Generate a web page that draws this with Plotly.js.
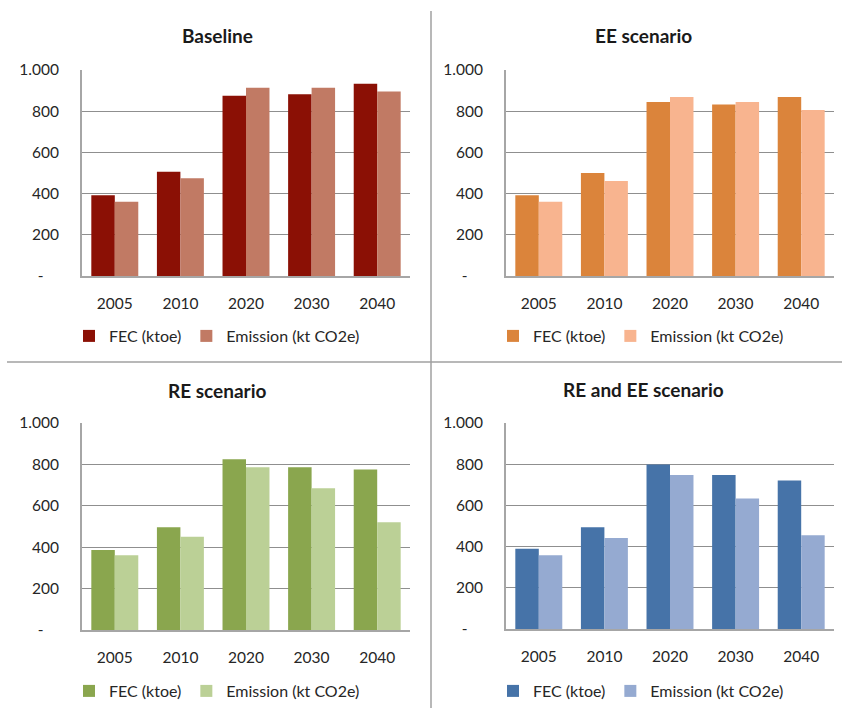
<!DOCTYPE html>
<html>
<head>
<meta charset="utf-8">
<script src="https://cdn.plot.ly/plotly-3.0.1.min.js"></script>
<style>
  html, body { margin: 0; padding: 0; background: #ffffff; }
  #chart { width: 842px; height: 708px; }
</style>
</head>
<body>
<div id="chart"></div>
<script>
// Final energy consumption and emissions per scenario
const years = ['2005', '2010', '2020', '2030', '2040'];

const baselineFEC      = [392, 506, 875, 882, 933];
const baselineEmission = [361, 474, 914, 914, 896];

const eeFEC      = [392, 500, 845, 832, 869];
const eeEmission = [361, 461, 869, 845, 806];

const reFEC      = [386, 496, 825, 786, 775];
const reEmission = [361, 451, 786, 685, 520];

const reeeFEC      = [390, 494, 798, 748, 721];
const reeeEmission = [358, 442, 748, 633, 455];

const panelTitles = ['Baseline', 'EE scenario', 'RE scenario', 'RE and EE scenario'];
const seriesNames = ['FEC (ktoe)', 'Emission (kt CO2e)'];
const yTickValues = [0, 200, 400, 600, 800, 1000];
const yTickLabels = ['-\u2002\u2002', '200', '400', '600', '800', '1.000'];

const W = 842, H = 708;
const FONT = 'Lato, "Open Sans", sans-serif';
const TEXT = '#262626';

const panels = [
  { fec: baselineFEC, em: baselineEmission, c1: '#8b1005', c2: '#c17a64',
    x: [82, 410], y: [70, 276], title: [218, 35], legend: [217, 336] },
  { fec: eeFEC, em: eeEmission, c1: '#db843b', c2: '#f8b48f',
    x: [506, 834], y: [70, 276], title: [643, 35], legend: [641, 336] },
  { fec: reFEC, em: reEmission, c1: '#8aa64e', c2: '#bbd096',
    x: [82, 410], y: [423, 630], title: [218, 390], legend: [217, 691] },
  { fec: reeeFEC, em: reeeEmission, c1: '#4673a8', c2: '#95aad1',
    x: [506, 834], y: [423, 629], title: [643, 389], legend: [641, 691] }
];

const data = [];
const layout = {
  width: W, height: H,
  margin: { l: 0, r: 0, t: 0, b: 0 },
  paper_bgcolor: '#ffffff', plot_bgcolor: '#ffffff',
  barmode: 'group', bargap: 0.284, bargroupgap: 0,
  font: { family: FONT, size: 15, color: TEXT },
  annotations: [],
  shapes: [
    { type: 'line', xref: 'paper', yref: 'paper',
      x0: 431 / W, x1: 431 / W, y0: 0, y1: (H - 11) / H,
      line: { color: '#a0a0a0', width: 1.5 } },
    { type: 'line', xref: 'paper', yref: 'paper',
      x0: 7 / W, x1: 1, y0: (H - 362) / H, y1: (H - 362) / H,
      line: { color: '#a0a0a0', width: 1.5 } }
  ]
};

panels.forEach((p, i) => {
  const n = i + 1;
  const xa = n === 1 ? 'x' : 'x' + n;
  const ya = n === 1 ? 'y' : 'y' + n;
  const lg = n === 1 ? 'legend' : 'legend' + n;

  data.push({ type: 'bar', x: years, y: p.fec, name: seriesNames[0],
    xaxis: xa, yaxis: ya, legend: lg, marker: { color: p.c1 } });
  data.push({ type: 'bar', x: years, y: p.em, name: seriesNames[1],
    xaxis: xa, yaxis: ya, legend: lg, marker: { color: p.c2 } });

  layout['xaxis' + (n === 1 ? '' : n)] = {
    domain: [p.x[0] / W, p.x[1] / W], anchor: ya,
    type: 'category', showgrid: false, zeroline: false,
    showline: true, linecolor: '#a6a6a6', linewidth: 2,
    ticks: 'outside', ticklen: 12, tickcolor: 'rgba(0,0,0,0)',
    tickfont: { size: 15.5, color: TEXT }
  };
  layout['yaxis' + (n === 1 ? '' : n)] = {
    domain: [(H - p.y[1]) / H, (H - p.y[0]) / H], anchor: xa,
    range: [0, 1000], tickvals: yTickValues, ticktext: yTickLabels,
    showgrid: true, gridcolor: '#8f8f8f', gridwidth: 1, zeroline: false,
    showline: true, linecolor: '#a6a6a6', linewidth: 2,
    ticks: 'outside', ticklen: 18, tickcolor: 'rgba(0,0,0,0)',
    tickfont: { size: 15.5, color: TEXT }
  };
  layout[lg] = {
    orientation: 'h', xref: 'paper', yref: 'paper',
    x: p.legend[0] / W, y: (H - p.legend[1]) / H,
    xanchor: 'center', yanchor: 'middle',
    bgcolor: 'rgba(0,0,0,0)', font: { size: 16, color: TEXT },
    traceorder: 'normal'
  };
  layout.annotations.push({
    text: '<b>' + panelTitles[i] + '</b>', showarrow: false,
    xref: 'paper', yref: 'paper',
    x: p.title[0] / W, y: (H - p.title[1]) / H,
    xanchor: 'center', yanchor: 'middle',
    font: { size: 19, color: '#1a1a1a', family: FONT }
  });
});

Plotly.newPlot('chart', data, layout, { displayModeBar: false, staticPlot: true });
</script>
</body>
</html>
